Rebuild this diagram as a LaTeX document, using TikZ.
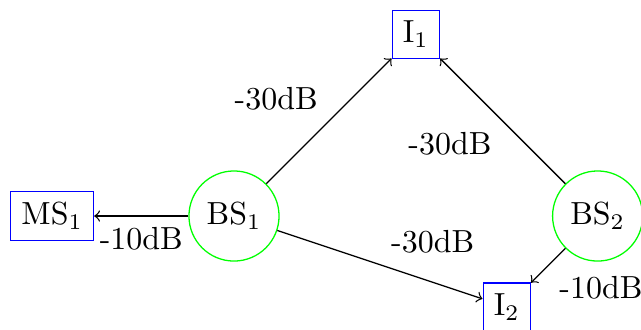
\documentclass[tikz,border=0pt]{standalone}
\usepackage{amsmath}
\usepackage{tikz}
\usetikzlibrary{calc}
\usetikzlibrary{shapes}

\begin{document}
\begin{tikzpicture}[bs/.style={circle,draw=green},
                    term/.style={rectangle,draw=blue}]
  \useasboundingbox (-2.574,-1.243) rectangle (4.477,2.376);

  \node[bs] (bs1) at (0,0) {BS$_1$};
  \node[bs] (bs2) at (4,0) {BS$_2$};

  \node[term] (ms1) at (-2,0) {MS$_1$};
  \node[term] (i1) at (2,2) {I$_1$};
  \node[term] (i2) at (3,-1) {I$_2$};

  \draw[->] (bs1) -- node[below] {-10dB} (ms1);
  \draw[->] (bs1) -- node[above left] {-30dB} (i1);
  \draw[->] (bs1) -- node[above right] {-30dB} (i2);
  \draw[->] (bs2) -- node[below left] {-30dB} (i1);
  \draw[->] (bs2) -- node[below right] {-10dB} (i2);

\end{tikzpicture}
\end{document}
